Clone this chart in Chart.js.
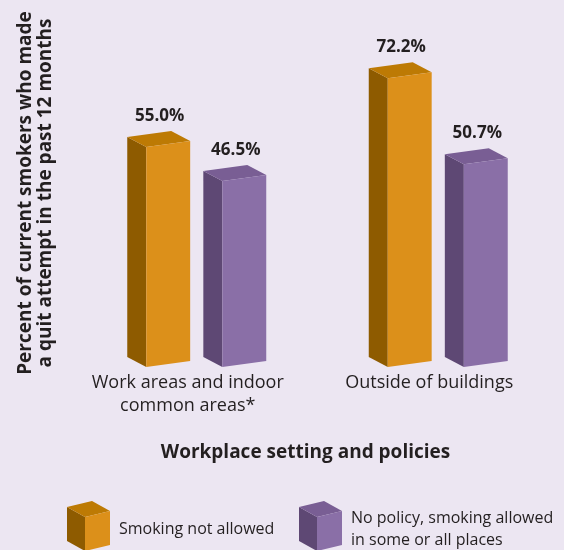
<!DOCTYPE html>
<html>
<head>
<meta charset="utf-8">
<script src="https://cdn.jsdelivr.net/npm/chart.js@4/dist/chart.umd.min.js"></script>
<style>
  html, body { margin: 0; padding: 0; background: #ECE6F2; }
  #wrap { width: 564px; height: 550px; position: relative; overflow: hidden; }
</style>
</head>
<body>
<div id="wrap"><canvas id="chart" width="564" height="550"></canvas></div>
<script>
// Workplace settings shown on the x axis
const categories = [['Work areas and indoor', 'common areas*'], 'Outside of buildings'];
// Percent of current smokers who made a quit attempt
const smokingNotAllowed = [55.0, 72.2];
const smokingAllowed = [46.5, 50.7];
const seriesLabels = [['Smoking not allowed'], ['No policy, smoking allowed', 'in some or all places']];
const yTitle = ['Percent of current smokers who made', 'a quit attempt in the past 12 months'];
const xTitle = 'Workplace setting and policies';

const TEXT = '#231F20';
const FONT = "'Open Sans', 'Noto Sans', sans-serif";

// Face colours for the box-shaped bars
const palettes = [
  { front: '#DC901A', side: '#8E5B00', top: '#BD7A04' },
  { front: '#8A6FA7', side: '#5E4874', top: '#795E94' }
];

// Box geometry: side-face depth, rise of the back edge, slant of the front face
const DEPTH = 19, RISE = 10, SLANT = 6;

function fillPoly(ctx, color, pts) {
  ctx.beginPath();
  ctx.moveTo(pts[0][0], pts[0][1]);
  for (let i = 1; i < pts.length; i++) ctx.lineTo(pts[i][0], pts[i][1]);
  ctx.closePath();
  ctx.fillStyle = color;
  ctx.fill();
}

// left/right: footprint including side face; top/bottom: front-right edge
function drawBox(ctx, left, right, top, bottom, pal, depth) {
  const xL = left + depth;
  const xR = right;
  fillPoly(ctx, pal.side, [[left, top + SLANT - RISE], [xL, top + SLANT], [xL, bottom + SLANT], [left, bottom + SLANT - RISE]]);
  fillPoly(ctx, pal.top, [[left, top + SLANT - RISE], [xR - depth, top - RISE], [xR, top], [xL, top + SLANT]]);
  fillPoly(ctx, pal.front, [[xL, top + SLANT], [xR, top], [xR, bottom], [xL, bottom + SLANT]]);
}

const boxBars = {
  id: 'boxBars',
  afterLayout(chart) {
    // nudge the x-axis title slightly left of the plot centre
    const s = chart.scales.x;
    if (!s._titleNudged) {
      const orig = s.drawTitle;
      s.drawTitle = function () {
        this.ctx.save();
        this.ctx.translate(-12, 0);
        orig.call(this);
        this.ctx.restore();
      };
      s._titleNudged = true;
    }
  },
  beforeDatasetDraw() { return false; },
  afterDatasetsDraw(chart) {
    const ctx = chart.ctx;
    ctx.save();
    chart.data.datasets.forEach((ds, i) => {
      const meta = chart.getDatasetMeta(i);
      meta.data.forEach((bar, j) => {
        const p = bar.getProps(['x', 'y', 'base', 'width'], true);
        drawBox(ctx, p.x - p.width / 2, p.x + p.width / 2, p.y, p.base, palettes[i], DEPTH);
        ctx.fillStyle = TEXT;
        ctx.font = "bold 17px " + FONT;
        ctx.textAlign = 'center';
        ctx.textBaseline = 'middle';
        ctx.fillText(ds.data[j].toFixed(1) + '%', p.x + 1, p.y - 25);
      });
    });
    ctx.restore();
  },
  afterDraw(chart) {
    // legend row with small boxes
    const ctx = chart.ctx;
    const starts = [67, 299];
    ctx.save();
    chart.data.datasets.forEach((ds, i) => {
      const lx = starts[i];
      drawBox(ctx, lx, lx + 43, 511, 545, palettes[i], 18);
      ctx.fillStyle = TEXT;
      ctx.font = "16px " + FONT;
      ctx.textAlign = 'left';
      ctx.textBaseline = 'middle';
      const lines = ds.label;
      const lh = 22;
      const y0 = 529.5 - (lines.length - 1) * lh / 2;
      lines.forEach((t, k) => ctx.fillText(t, lx + 52, y0 + k * lh));
    });
    ctx.restore();
  }
};

new Chart(document.getElementById('chart'), {
  type: 'bar',
  data: {
    labels: categories,
    datasets: [
      { label: seriesLabels[0], data: smokingNotAllowed, backgroundColor: palettes[0].front },
      { label: seriesLabels[1], data: smokingAllowed, backgroundColor: palettes[1].front }
    ]
  },
  options: {
    responsive: false,
    animation: false,
    events: [],
    layout: { padding: { left: 0, right: 5, top: 25, bottom: 74 } },
    datasets: { bar: { categoryPercentage: 0.63, barPercentage: 0.827, borderWidth: 0 } },
    plugins: { legend: { display: false }, tooltip: { enabled: false } },
    scales: {
      x: {
        grid: { display: false, drawTicks: false },
        border: { display: false },
        ticks: { color: TEXT, font: { family: FONT, size: 18, lineHeight: 1.28 }, padding: 10.5, labelOffset: -9, maxRotation: 0 },
        title: { display: true, text: xTitle, color: TEXT, font: { family: FONT, size: 19, weight: 'bold', lineHeight: 1.2 }, padding: { top: 0, bottom: 11.6 } },
        afterFit(scale) { scale.height = 115; }
      },
      y: {
        min: 0,
        max: 84,
        grid: { display: false, drawTicks: false },
        border: { display: false },
        ticks: { display: false },
        title: { display: true, text: yTitle, color: TEXT, font: { family: FONT, size: 19, weight: 'bold', lineHeight: 1.07 }, padding: { top: 15, bottom: 0 } },
        afterFit(scale) { scale.width = 76; }
      }
    }
  },
  plugins: [boxBars]
});
</script>
</body>
</html>
